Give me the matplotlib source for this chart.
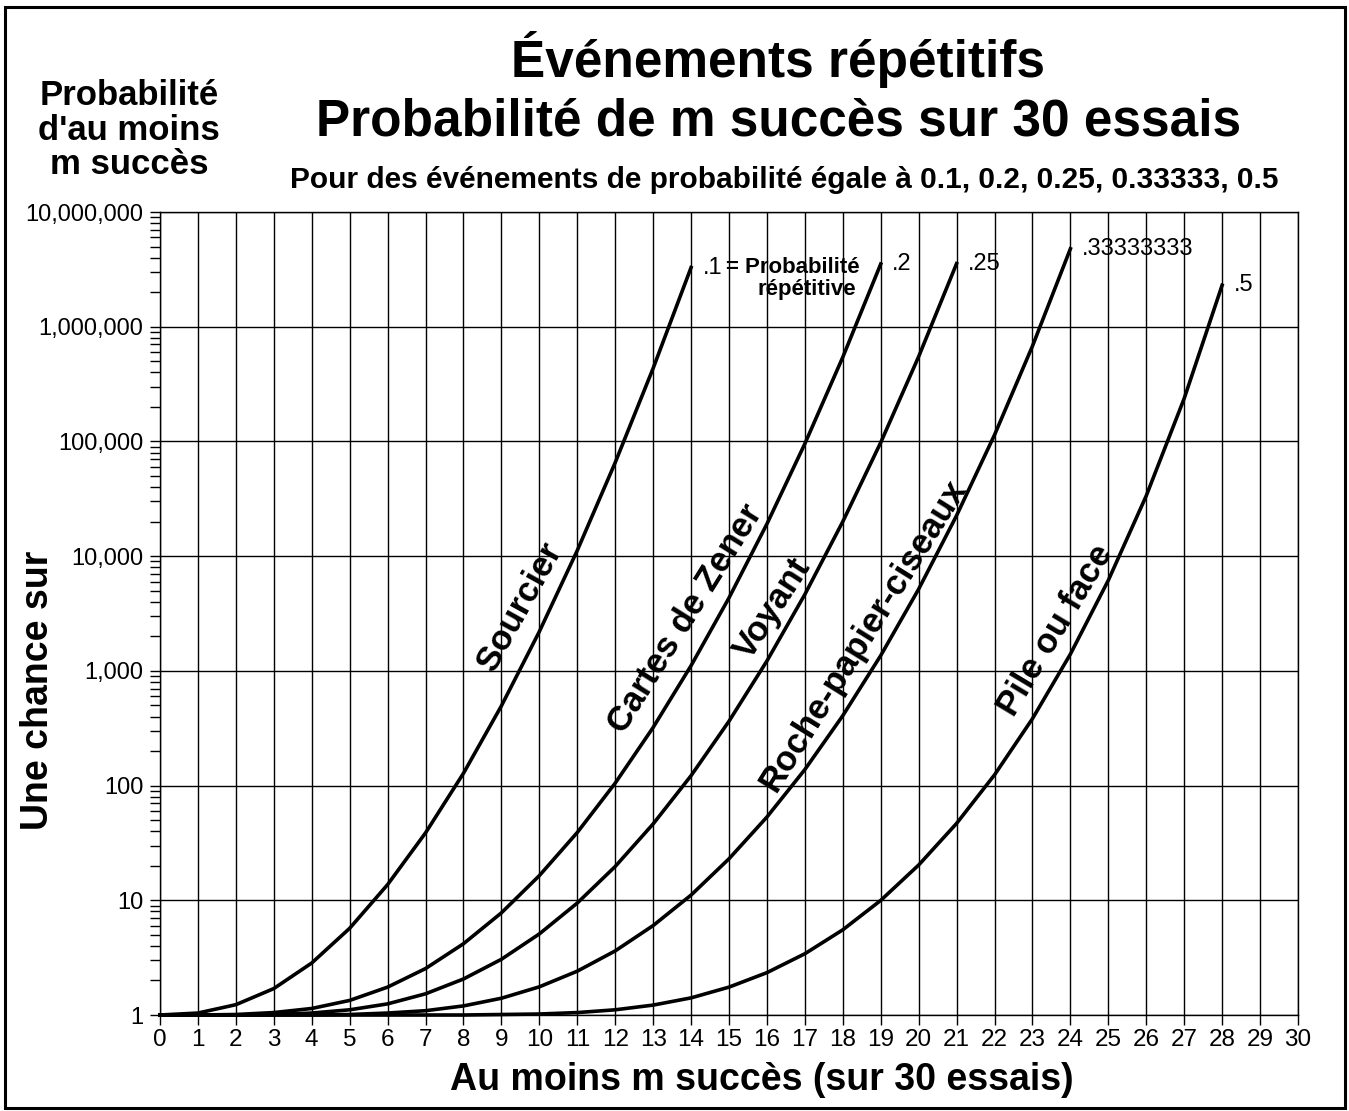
import numpy as np
from matplotlib import pyplot as plt
from matplotlib.patches import Rectangle
from matplotlib.ticker import FixedLocator, FuncFormatter, NullFormatter

plt.rcParams['font.family'] = ['Liberation Sans', 'DejaVu Sans']

W, H = 1349, 1111

# "une chance sur N" d'obtenir au moins m succes sur 30 essais
m_01 = np.arange(0, 15)
odds_01 = [1, 1.04, 1.23, 1.70, 2.84, 5.70, 13.7, 38.7, 128, 495, 2200,
           11200, 65400, 434000, 3280000]

m_02 = np.arange(0, 20)
odds_02 = [1, 1.00, 1.01, 1.05, 1.14, 1.34, 1.75, 2.54, 4.18, 7.77, 16.4,
           39.0, 105, 321, 1110, 4330, 19100, 95500, 543000, 3520000]

m_025 = np.arange(0, 22)
odds_025 = [1, 1.00, 1.00, 1.01, 1.04, 1.11, 1.25, 1.53, 2.06, 3.06, 5.09,
            9.46, 19.7, 46.3, 122, 364, 1220, 4640, 20000, 97900, 549000,
            3550000]

m_033 = np.arange(0, 25)
odds_033 = [1, 1, 1, 1.00, 1.00, 1.01, 1.04, 1.09, 1.20, 1.40, 1.76, 2.41,
            3.62, 6.02, 11.1, 23.0, 53.2, 138, 407, 1360, 5160, 22600,
            114000, 678000, 4780000]

m_05 = np.arange(0, 29)
odds_05 = [1, 1, 1, 1, 1, 1, 1.00, 1.00, 1.00, 1.01, 1.02, 1.05, 1.11,
           1.22, 1.41, 1.75, 2.34, 3.42, 5.53, 9.98, 20.3, 46.8, 124, 383,
           1400, 6160, 33600, 237000, 2300000]

series = [(m_01, odds_01), (m_02, odds_02), (m_025, odds_025),
          (m_033, odds_033), (m_05, odds_05)]
end_labels = ['.1', '.2', '.25', '.33333333', '.5']
names = ['Sourcier', 'Cartes de Zener', 'Voyant', 'Roche-papier-ciseaux',
         'Pile ou face']
# position (m, chance) et angle des noms le long des courbes
name_pos = [(9.5, 3600, 61), (13.85, 2850, 58), (16.15, 3500, 57),
            (18.55, 2050, 58), (23.6, 2250, 59)]


def fpx(x, y):
    return x / W, 1 - y / H


fig = plt.figure(figsize=(W / 100, H / 100), dpi=100)
ax = fig.add_axes([160 / W, 1 - 1015 / H, 1138 / W, 803 / H])

for (m, odds) in series:
    ax.plot(m, odds, color='black', lw=2.6, solid_joinstyle='round',
            clip_on=False, zorder=3)

ax.set_yscale('log')
ax.set_xlim(0, 30)
ax.set_ylim(1, 1e7)

ax.xaxis.set_major_locator(FixedLocator(np.arange(0, 31)))
ax.yaxis.set_major_locator(FixedLocator([10.0 ** k for k in range(8)]))
ax.yaxis.set_minor_locator(FixedLocator(
    [s * 10.0 ** k for k in range(7) for s in range(2, 10)]))
ax.yaxis.set_major_formatter(FuncFormatter(lambda v, p: f"{int(round(v)):,}"))
ax.yaxis.set_minor_formatter(NullFormatter())

ax.grid(True, which='major', color='black', lw=1.0)
for s in ax.spines.values():
    s.set_linewidth(1.0)
ax.tick_params(axis='both', which='both', direction='out', length=7,
               width=1.0, color='black')
ax.tick_params(axis='x', pad=3, labelsize=17.5)
ax.tick_params(axis='y', pad=5, labelsize=17)

# etiquettes au bout des courbes
for (m, odds), lab in zip(series, end_labels):
    ax.text(m[-1] + 0.3, odds[-1], lab, fontsize=17, ha='left',
            va='center')
ax.annotate('= Probabilité', xy=(m_01[-1] + 0.3, odds_01[-1]),
            xytext=(24, 0), textcoords='offset pixels', fontsize=16,
            fontweight='bold', ha='left', va='center')
ax.annotate('répétitive', xy=(m_01[-1] + 0.3, odds_01[-1]),
            xytext=(104, -22), textcoords='offset pixels', fontsize=16,
            fontweight='bold', ha='center', va='center')

for name, (x, y, rot) in zip(names, name_pos):
    ax.text(x, y, name, fontsize=25, fontweight='bold', rotation=rot,
            rotation_mode='anchor', ha='center', va='center')

fig.text(*fpx(778, 77), 'Événements répétitifs', fontsize=37,
         fontweight='bold', ha='center', va='baseline')
fig.text(*fpx(779, 136), 'Probabilité de m succès sur 30 essais',
         fontsize=37, fontweight='bold', ha='center', va='baseline')
fig.text(*fpx(784, 188),
         'Pour des événements de probabilité égale à 0.1, 0.2, 0.25, 0.33333, 0.5',
         fontsize=21.5, fontweight='bold', ha='center', va='baseline')
fig.text(*fpx(129, 130), "Probabilité\nd'au moins\nm succès", fontsize=25,
         fontweight='bold', ha='center', va='center', linespacing=1.05)
fig.text(*fpx(38, 690), 'Une chance sur', fontsize=27, fontweight='bold',
         rotation=90, ha='center', va='center')
fig.text(*fpx(762, 1080), 'Au moins m succès (sur 30 essais)', fontsize=27,
         fontweight='bold', ha='center', va='center')

# cadre autour de la figure
fig.patches.append(Rectangle(fpx(5, 1108), 1340 / W, 1101 / H,
                             transform=fig.transFigure, fill=False,
                             lw=2.2, ec='black'))

fig.savefig('out.png', dpi=100)
